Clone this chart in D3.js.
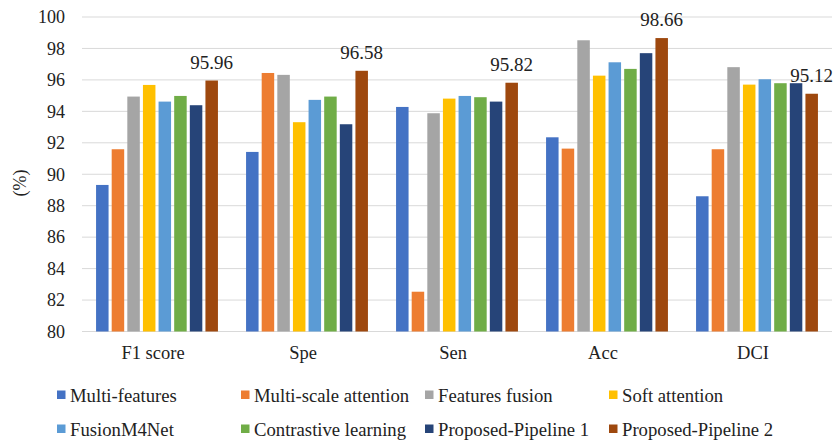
<!DOCTYPE html>
<html>
<head>
<meta charset="utf-8">
<script src="https://cdn.jsdelivr.net/npm/d3@7"></script>
<style>
  html, body { margin: 0; padding: 0; background: #fff; }
  svg { display: block; }
</style>
</head>
<body>
<svg id="chart" width="834" height="442"></svg>
<script>
const categories = ["F1 score", "Spe", "Sen", "Acc", "DCI"];
const seriesNames = ["Multi-features", "Multi-scale attention", "Features fusion", "Soft attention",
                     "FusionM4Net", "Contrastive learning", "Proposed-Pipeline 1", "Proposed-Pipeline 2"];
const multiFeatures       = [89.32, 91.42, 94.28, 92.35, 88.60];
const multiScaleAttention = [91.59, 96.44, 82.53, 91.63, 91.59];
const featuresFusion      = [94.94, 96.32, 93.88, 98.52, 96.81];
const softAttention       = [95.68, 93.31, 94.81, 96.27, 95.70];
const fusionM4Net         = [94.62, 94.73, 94.98, 97.12, 96.04];
const contrastiveLearning = [94.98, 94.94, 94.90, 96.70, 95.79];
const proposedPipeline1   = [94.39, 93.18, 94.62, 97.70, 95.79];
const proposedPipeline2   = [95.96, 96.58, 95.82, 98.66, 95.12];
const yTicks = [80, 82, 84, 86, 88, 90, 92, 94, 96, 98, 100];
const colors = ["#4472C4", "#ED7D31", "#A5A5A5", "#FFC000", "#5B9BD5", "#70AD47", "#264478", "#9E480E"];

const seriesValues = [multiFeatures, multiScaleAttention, featuresFusion, softAttention,
                      fusionM4Net, contrastiveLearning, proposedPipeline1, proposedPipeline2];

const FONT = '"Liberation Serif", "Times New Roman", serif';
const svg = d3.select("#chart").attr("font-family", FONT);
const plotLeft = 82, plotRight = 832, plotTop = 17, plotBottom = 331.5;

const x0 = d3.scaleBand().domain(categories).range([plotLeft, plotRight]).padding(0);
const x1 = d3.scaleBand().domain(seriesNames).range([0, x0.bandwidth()])
  .paddingInner(0.2).paddingOuter(0.9);
const y = d3.scaleLinear().domain([80, 100]).range([plotBottom, plotTop]);

// gridlines
svg.append("g").selectAll("line").data(yTicks).join("line")
  .attr("x1", plotLeft).attr("x2", plotRight)
  .attr("y1", d => y(d)).attr("y2", d => y(d))
  .attr("stroke", "#d9d9d9").attr("stroke-width", 1);

// y tick labels
svg.append("g").selectAll("text").data(yTicks).join("text")
  .attr("x", 65).attr("y", d => y(d)).attr("dy", "0.35em")
  .attr("text-anchor", "end").attr("font-size", 18).attr("fill", "#222")
  .attr("font-family", FONT)
  .text(d => d);

// y axis title
svg.append("text")
  .attr("transform", "translate(20,183) rotate(-90)")
  .attr("text-anchor", "middle").attr("dy", "0.35em")
  .attr("font-size", 18).attr("fill", "#222").attr("font-family", FONT)
  .text("(%)");

// bars
const groups = svg.append("g").selectAll("g").data(categories).join("g")
  .attr("transform", d => `translate(${x0(d)},0)`);

groups.selectAll("rect")
  .data((c, ci) => seriesNames.map((s, si) => ({ s, si, v: seriesValues[si][ci] })))
  .join("rect")
  .attr("x", d => x1(d.s))
  .attr("width", x1.bandwidth())
  .attr("y", d => y(d.v))
  .attr("height", d => y(80) - y(d.v))
  .attr("fill", d => colors[d.si]);

// data labels for Proposed-Pipeline 2
const lastName = seriesNames[seriesNames.length - 1];
svg.append("g").selectAll("text").data(categories).join("text")
  .attr("x", c => x0(c) + x1(lastName) + x1.bandwidth() / 2)
  .attr("y", (c, i) => y(proposedPipeline2[i]) - 12)
  .attr("text-anchor", "middle").attr("font-size", 19).attr("fill", "#222")
  .attr("font-family", FONT)
  .text((c, i) => proposedPipeline2[i].toFixed(2));

// x labels
svg.append("g").selectAll("text").data(categories).join("text")
  .attr("x", c => x0(c) + x0.bandwidth() / 2 - 4)
  .attr("y", 359)
  .attr("text-anchor", "middle").attr("font-size", 18.5).attr("fill", "#222")
  .attr("font-family", FONT)
  .text(c => c);

// legend
const legend = svg.append("g").selectAll("g").data(seriesNames).join("g")
  .attr("transform", (d, i) => `translate(${70 + (i % 4) * 184},${i < 4 ? 395 : 429})`);
legend.append("rect")
  .attr("x", -13).attr("y", -4.5).attr("width", 8.5).attr("height", 8.5)
  .attr("fill", (d, i) => colors[i]);
legend.append("text")
  .attr("x", 0).attr("dy", "0.35em")
  .attr("font-size", 18.7).attr("fill", "#222").attr("font-family", FONT)
  .text(d => d);
</script>
</body>
</html>
